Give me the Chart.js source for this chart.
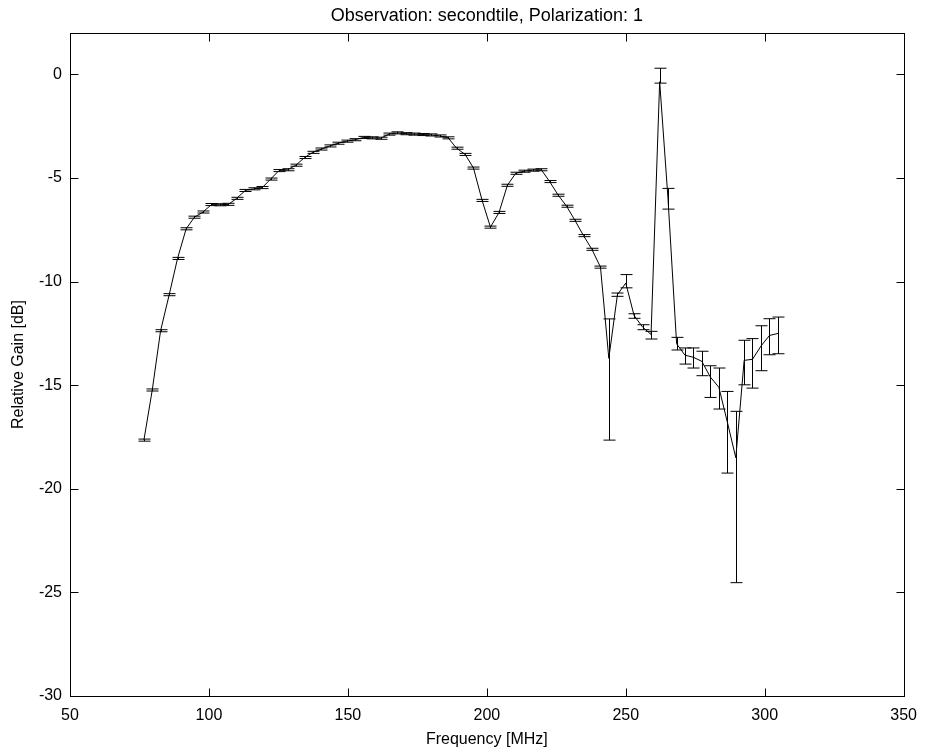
<!DOCTYPE html>
<html>
<head>
<meta charset="utf-8">
<script src="https://cdn.jsdelivr.net/npm/chart.js@4.4.0/dist/chart.umd.min.js"></script>
<style>
  html, body { margin: 0; padding: 0; background: #fff; }
  #wrap { width: 927px; height: 752px; }
</style>
</head>
<body>
<div id="wrap"><canvas id="gainChart" width="927" height="752"></canvas></div>
<script>
const titleText = "Observation: secondtile, Polarization: 1";
const xTitle = "Frequency [MHz]";
const yTitle = "Relative Gain [dB]";

const xTicks = [50, 100, 150, 200, 250, 300, 350];
const yTicks = [-30, -25, -20, -15, -10, -5, 0];

const freqs = [
  76.6, 79.6, 82.6, 85.7, 88.7, 91.8, 94.8, 97.9, 100.9, 103.9,
  107.0, 110.0, 113.1, 116.1, 119.2, 122.2, 125.2, 128.3, 131.3, 134.4,
  137.4, 140.5, 143.5, 146.5, 149.6, 152.6, 155.7, 158.7, 161.8, 164.8,
  167.8, 170.9, 173.9, 177.0, 180.0, 183.1, 186.1, 189.1, 192.2, 195.2,
  198.3, 201.3, 204.4, 207.4, 210.4, 213.5, 216.5, 219.6, 222.6, 225.7,
  228.7, 231.7, 234.8, 237.8, 240.9, 243.9, 247.0, 250.0, 253.0, 256.1,
  259.1, 262.2, 265.2, 268.3, 271.3, 274.3, 277.4, 280.4, 283.5, 286.5,
  289.6, 292.6, 295.6, 298.7, 301.7, 304.8
];

const gains = [
  -17.65, -15.23, -12.37, -10.63, -8.88, -7.45, -6.89, -6.64, -6.28, -6.29,
  -6.27, -5.98, -5.60, -5.52, -5.46, -5.05, -4.64, -4.60, -4.38, -4.01,
  -3.76, -3.60, -3.45, -3.32, -3.22, -3.15, -3.04, -3.06, -3.08, -2.88,
  -2.82, -2.86, -2.88, -2.90, -2.92, -2.97, -3.06, -3.56, -3.86, -4.52,
  -6.08, -7.37, -6.66, -5.35, -4.77, -4.67, -4.62, -4.60, -5.17, -5.83,
  -6.36, -7.04, -7.78, -8.44, -9.30, -13.70, -10.63, -10.07, -11.64, -12.20,
  -12.55, -0.35, -6.00, -13.00, -13.55, -13.65, -13.85, -14.60, -15.10, -16.75,
  -18.50, -13.80, -13.75, -13.10, -12.60, -12.50
];

// error bar lengths above / below each point (dB)
const errUp = [
  0.05, 0.05, 0.05, 0.05, 0.05, 0.05, 0.05, 0.05, 0.05, 0.05,
  0.05, 0.05, 0.05, 0.05, 0.05, 0.05, 0.05, 0.05, 0.05, 0.05,
  0.05, 0.05, 0.05, 0.05, 0.05, 0.05, 0.05, 0.05, 0.05, 0.05,
  0.05, 0.05, 0.05, 0.05, 0.05, 0.05, 0.05, 0.05, 0.05, 0.05,
  0.05, 0.05, 0.05, 0.05, 0.05, 0.05, 0.05, 0.05, 0.05, 0.05,
  0.05, 0.05, 0.05, 0.05, 0.05, 1.90, 0.08, 0.41, 0.09, 0.12,
  0.15, 0.65, 0.50, 0.31, 0.35, 0.45, 0.49, 0.54, 0.93, 1.45,
  2.24, 0.97, 1.00, 0.97, 0.81, 0.79
];
const errDown = [
  0.05, 0.05, 0.05, 0.05, 0.05, 0.05, 0.05, 0.05, 0.05, 0.05,
  0.05, 0.05, 0.05, 0.05, 0.05, 0.05, 0.05, 0.05, 0.05, 0.05,
  0.05, 0.05, 0.05, 0.05, 0.05, 0.05, 0.05, 0.05, 0.05, 0.05,
  0.05, 0.05, 0.05, 0.05, 0.05, 0.05, 0.05, 0.05, 0.05, 0.05,
  0.05, 0.05, 0.05, 0.05, 0.05, 0.05, 0.05, 0.05, 0.05, 0.05,
  0.05, 0.05, 0.05, 0.05, 0.05, 3.95, 0.08, 0.23, 0.13, 0.12,
  0.22, 0.07, 0.50, 0.30, 0.43, 0.52, 0.69, 0.99, 1.05, 2.49,
  6.03, 1.18, 1.39, 1.20, 0.93, 0.98
];

const FONT = "'Liberation Sans', Arial, Helvetica, sans-serif";

// error bars, frame and inward ticks, MATLAB style
const matlabAxes = {
  id: "matlabAxes",
  afterDatasetsDraw(chart) {
    const { ctx, scales: { x, y } } = chart;
    ctx.save();
    ctx.strokeStyle = "#000";
    ctx.lineWidth = 1;
    const cap = 6;
    freqs.forEach((f, i) => {
      const px = Math.round(x.getPixelForValue(f)) + 0.5;
      const top = y.getPixelForValue(gains[i] + errUp[i]);
      const bot = y.getPixelForValue(gains[i] - errDown[i]);
      ctx.beginPath();
      ctx.moveTo(px, top);
      ctx.lineTo(px, bot);
      ctx.moveTo(px - cap, top);
      ctx.lineTo(px + cap, top);
      ctx.moveTo(px - cap, bot);
      ctx.lineTo(px + cap, bot);
      ctx.stroke();
    });
    ctx.restore();
  },
  afterDraw(chart) {
    const { ctx, chartArea: a, scales: { x, y } } = chart;
    const L = Math.round(a.left) + 0.5, R = Math.round(a.right) + 0.5;
    const T = Math.round(a.top) + 0.5, B = Math.round(a.bottom) + 0.5;
    ctx.save();
    ctx.strokeStyle = "#000";
    ctx.lineWidth = 1;
    ctx.strokeRect(L, T, R - L, B - T);
    const tl = 8;
    ctx.beginPath();
    xTicks.forEach(v => {
      const px = Math.round(x.getPixelForValue(v)) + 0.5;
      ctx.moveTo(px, B); ctx.lineTo(px, B - tl);
      ctx.moveTo(px, T); ctx.lineTo(px, T + tl);
    });
    yTicks.forEach(v => {
      const py = Math.round(y.getPixelForValue(v)) + 0.5;
      ctx.moveTo(L, py); ctx.lineTo(L + tl, py);
      ctx.moveTo(R, py); ctx.lineTo(R - tl, py);
    });
    ctx.stroke();
    ctx.restore();
  }
};

new Chart(document.getElementById("gainChart"), {
  type: "line",
  data: {
    datasets: [
      {
        label: "gain",
        data: freqs.map((f, i) => ({ x: f, y: gains[i] })),
        borderColor: "#000",
        borderWidth: 1,
        pointRadius: 0,
        tension: 0,
        fill: false
      }
    ]
  },
  options: {
    responsive: false,
    animation: false,
    devicePixelRatio: 1,
    layout: { padding: { left: 0, right: 21, top: 0, bottom: 0 } },
    plugins: {
      legend: { display: false },
      tooltip: { enabled: false },
      title: {
        display: true,
        fullSize: false,
        text: titleText,
        color: "#000",
        font: { family: FONT, size: 18, weight: "normal" },
        padding: { top: 5, bottom: 6.4 }
      }
    },
    scales: {
      x: {
        type: "linear",
        min: 50,
        max: 350,
        afterBuildTicks: s => { s.ticks = xTicks.map(v => ({ value: v })); },
        afterFit: s => { s.height = 56; },
        ticks: { color: "#000", padding: 10, font: { family: FONT, size: 16 }, maxRotation: 0 },
        grid: { display: false, drawTicks: false },
        border: { display: false },
        title: { display: true, text: xTitle, color: "#000", font: { family: FONT, size: 16 }, padding: { top: 0, bottom: 3 } }
      },
      y: {
        type: "linear",
        min: -30,
        max: 2,
        afterBuildTicks: s => { s.ticks = yTicks.map(v => ({ value: v })); },
        afterFit: s => { s.width = 70; },
        ticks: { color: "#000", padding: 8, font: { family: FONT, size: 16 } },
        grid: { display: false, drawTicks: false },
        border: { display: false },
        title: { display: true, text: yTitle, color: "#000", font: { family: FONT, size: 16 }, padding: { top: 9, bottom: 0 } }
      }
    }
  },
  plugins: [matlabAxes]
});
</script>
</body>
</html>
